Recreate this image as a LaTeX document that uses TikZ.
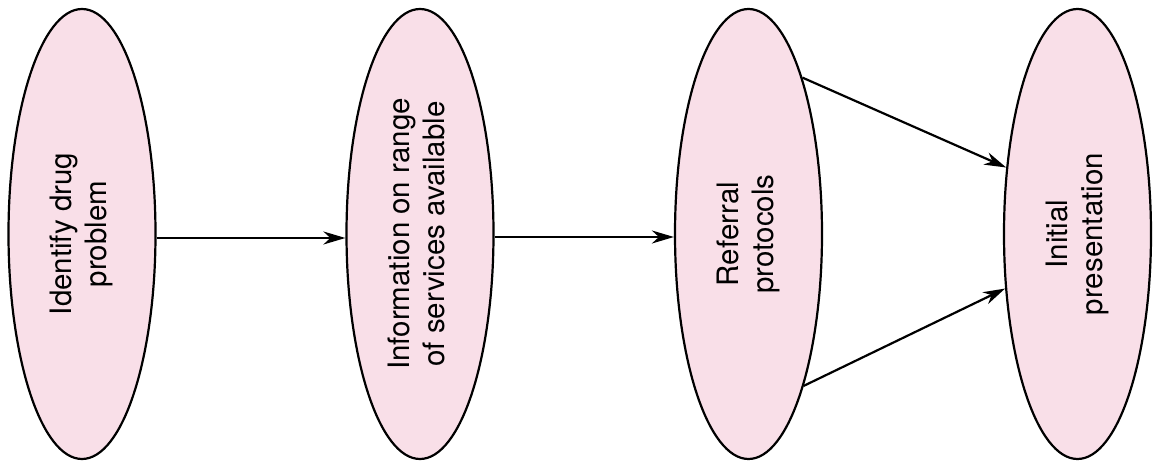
\documentclass[tikz,border=0pt]{standalone}
\usepackage{fontspec}
\setmainfont{TeX Gyre Heros}
\usetikzlibrary{shapes.geometric,arrows.meta}
\definecolor{ovalfill}{RGB}{249,223,232}
\tikzset{
  oval/.style={ellipse, draw=black, line width=2.2pt, fill=ovalfill,
    minimum width=147pt, minimum height=450pt, inner sep=0pt,
    font=\fontsize{29.5}{35}\selectfont},
  conn/.style={line width=2.2pt, -{Stealth[length=22pt,width=13pt,inset=7pt]}}
}
\newcommand{\vtext}[1]{\rotatebox{90}{\begin{tabular}{@{}c@{}}#1\end{tabular}}}
\begin{document}
\begin{tikzpicture}[x=1pt,y=1pt]
\useasboundingbox (0,0) rectangle (1159,463);
\node[oval] (e1) at (82,229) {\vtext{Identify drug\\problem}};
\node[oval] (e2) at (420,229) {\vtext{Information on range\\of services available}};
\node[oval] (e3) at (748.5,229) {\vtext{Referral\\protocols}};
\node[oval] (e4) at (1077.5,229) {\vtext{Initial\\presentation}};
\draw[conn] ([yshift=-4pt]e1.east) -- ([yshift=-4pt]e2.west);
\draw[conn] ([yshift=-3pt]e2.east) -- ([yshift=-3pt]e3.west);
\draw[conn] (e3.71.7) -- (e4.137.7);
\draw[conn] (e3.-70.3) -- (e4.217.7);
\end{tikzpicture}
\end{document}
